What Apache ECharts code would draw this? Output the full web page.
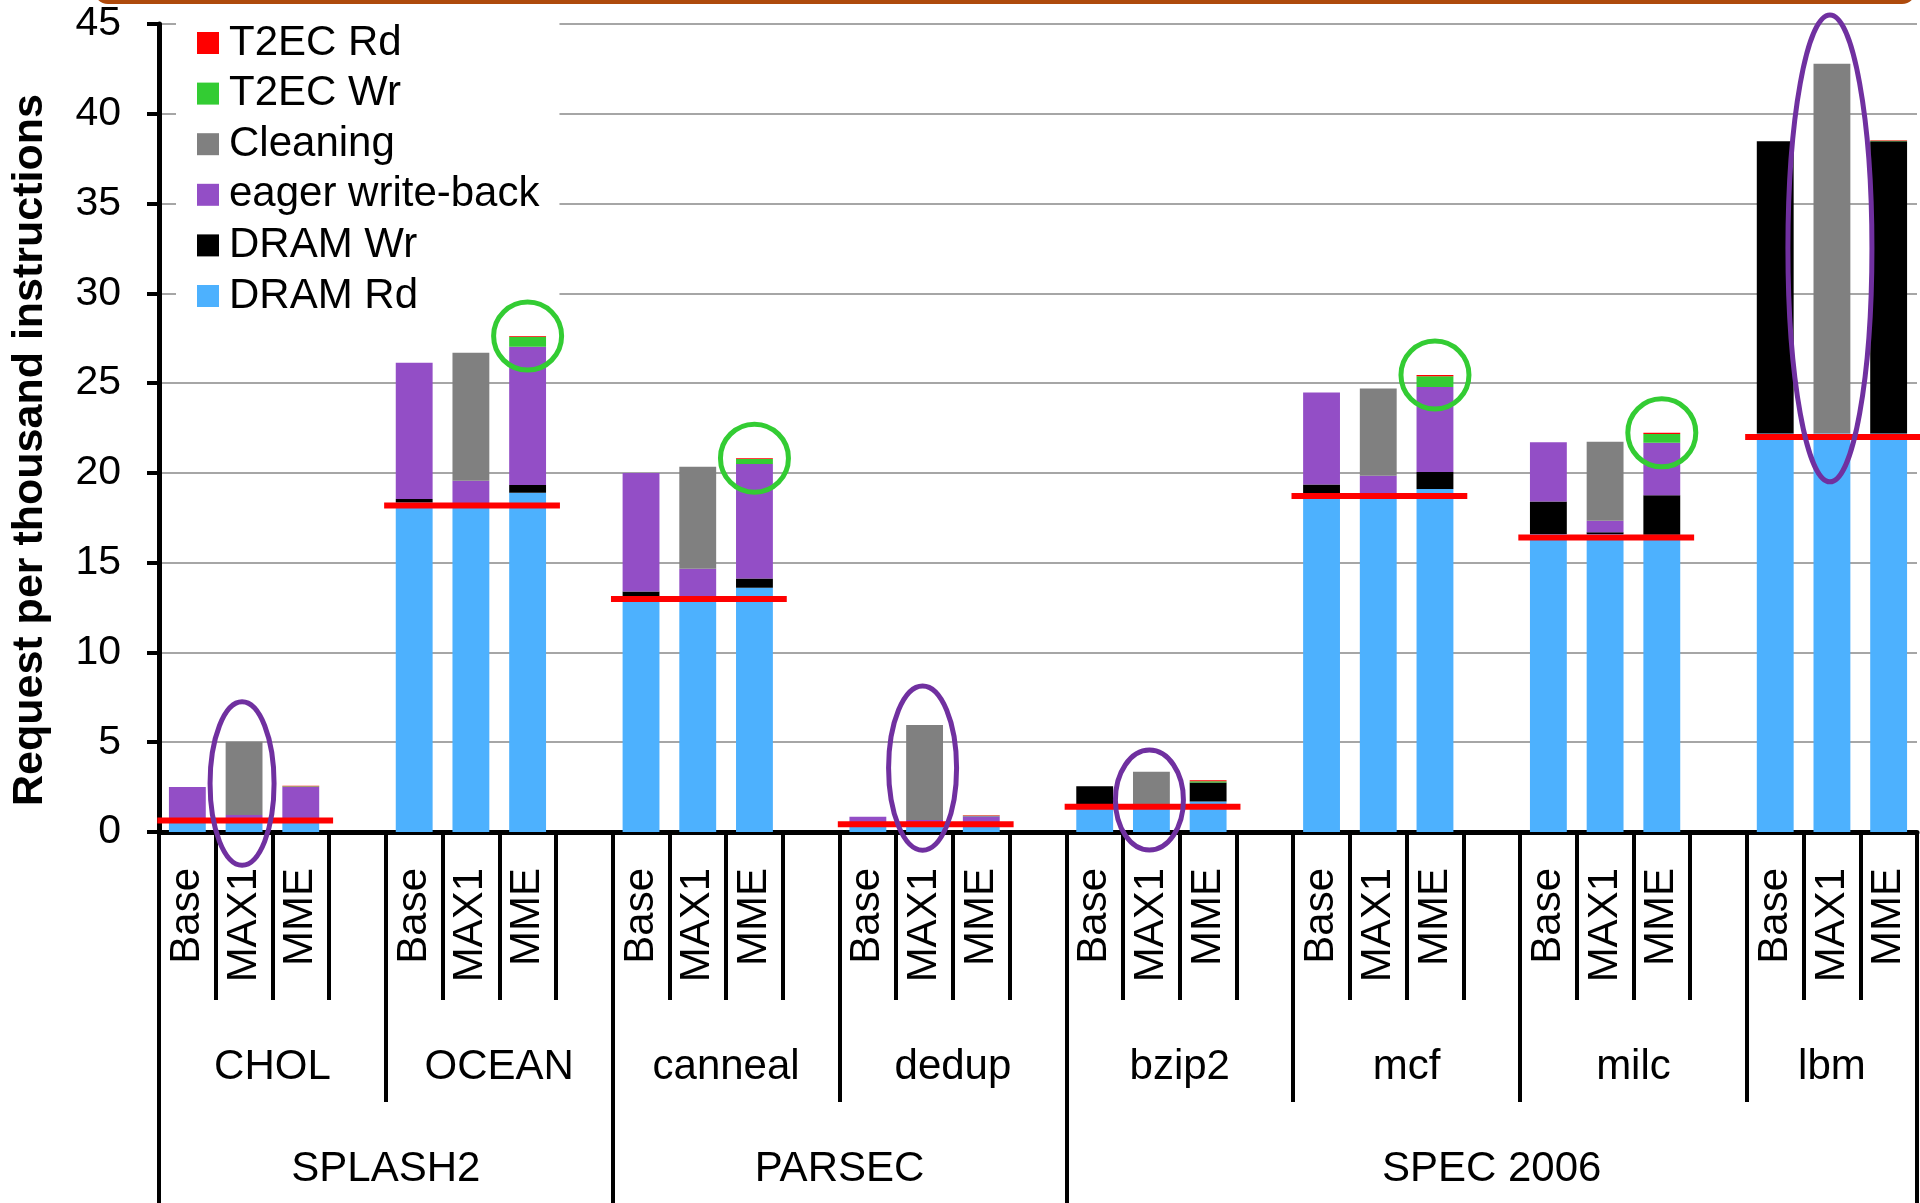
<!DOCTYPE html>
<html>
<head>
<meta charset="utf-8">
<title>Request per thousand instructions</title>
<script src="https://cdn.jsdelivr.net/npm/echarts@6/dist/echarts.min.js"></script>
<style>
  html, body { margin: 0; padding: 0; background: #fff; }
  #chart { width: 1920px; height: 1203px; }
</style>
</head>
<body>
<div id="chart"></div>
<script>
// ---- data -----------------------------------------------------------
const groups  = ['CHOL', 'OCEAN', 'canneal', 'dedup', 'bzip2', 'mcf', 'milc', 'lbm'];
const configs = ['Base', 'MAX1', 'MME'];
const suites  = ['SPLASH2', 'PARSEC', 'SPEC 2006'];
const suiteGroupCounts = [2, 2, 4];

// requests per thousand instructions, one triple [Base, MAX1, MME] per benchmark
const dramRd = [[0.6, 0.6, 0.6], [18.35, 18.3, 18.9], [13.1, 13.1, 13.6], [0.4, 0.4, 0.4],
                [1.35, 1.4, 1.7], [18.85, 18.8, 19.1], [16.6, 16.6, 16.55], [22.2, 22.2, 22.2]];
const dramWr = [[0, 0, 0], [0.2, 0, 0.42], [0.3, 0, 0.52], [0, 0, 0],
                [1.2, 0, 1.05], [0.5, 0, 0.95], [1.8, 0.1, 2.2], [16.27, 0, 16.27]];
const eagerWb = [[1.9, 0.35, 1.92], [7.58, 1.26, 7.7], [6.6, 1.56, 6.37], [0.45, 0.27, 0.48],
                 [0, 0.16, 0], [5.13, 1.04, 4.74], [3.3, 0.63, 2.93], [0, 0, 0]];
const cleaning = [[0, 4.08, 0], [0, 7.13, 0], [0, 5.68, 0], [0, 5.29, 0],
                  [0, 1.8, 0], [0, 4.86, 0], [0, 4.4, 0], [0, 20.59, 0]];
const t2ecWr = [[0, 0, 0.03], [0, 0, 0.56], [0, 0, 0.28], [0, 0, 0.03],
                [0, 0, 0.08], [0, 0, 0.59], [0, 0, 0.48], [0, 0, 0.03]];
const t2ecRd = [[0, 0, 0.02], [0, 0, 0.04], [0, 0, 0.05], [0, 0, 0.02],
                [0, 0, 0.05], [0, 0, 0.07], [0, 0, 0.07], [0, 0, 0.03]];

// baseline DRAM read level of each benchmark (red reference lines)
const baseline = [0.64, 18.19, 12.97, 0.43, 1.40, 18.71, 16.40, 22.0];

// Cleaning traffic call-outs on MAX1: [benchmark, centre value, half height]
const cleaningCallouts = [['CHOL', 2.7, 4.55], ['dedup', 3.56, 4.57], ['bzip2', 1.78, 2.78], ['lbm', 32.5, 13.0]];
// T2EC write call-outs on MME tops
const t2ecCallouts = ['OCEAN', 'canneal', 'mcf', 'milc'];

// ---- layout helpers -------------------------------------------------
const FONT = '"Liberation Sans", Arial, Helvetica, sans-serif';
const SLOTS_PER_GROUP = 4;   // three configurations + one empty spacer
const slotLabels = [];
const slotOf = (g, c) => g * SLOTS_PER_GROUP + c;
groups.forEach((g, gi) => {
  configs.forEach(c => slotLabels.push(c));
  if (gi < groups.length - 1) slotLabels.push('');
});
const nSlots = slotLabels.length;

function expand(table) {
  const out = new Array(nSlots).fill('-');
  table.forEach((row, gi) => row.forEach((v, ci) => { out[slotOf(gi, ci)] = v; }));
  return out;
}

// group boundaries and centres on the slot scale
const groupStart = groups.map((g, gi) => slotOf(gi, 0));
const groupSpan = groups.map((g, gi) => gi < groups.length - 1 ? SLOTS_PER_GROUP : configs.length);
const groupCenter = groupStart.map((s, gi) => s + groupSpan[gi] / 2);
const groupTicks = groupStart.concat([nSlots]);

const suiteStart = [];
const suiteEnd = [];
let acc = 0;
suiteGroupCounts.forEach(n => {
  const s = groupStart[acc];
  const last = acc + n - 1;
  suiteStart.push(s);
  suiteEnd.push(groupStart[last] + groupSpan[last]);
  acc += n;
});
const suiteCenter = suiteStart.map((s, i) => (s + suiteEnd[i]) / 2);
const suiteTicks = suiteStart.concat([nSlots]);

const seriesDefs = [
  { name: 'DRAM Rd', table: dramRd, color: '#4DB1FE' },
  { name: 'DRAM Wr', table: dramWr, color: '#000000' },
  { name: 'eager write-back', table: eagerWb, color: '#934EC6' },
  { name: 'Cleaning', table: cleaning, color: '#808080' },
  { name: 'T2EC Wr', table: t2ecWr, color: '#33CC33' },
  { name: 'T2EC Rd', table: t2ecRd, color: '#FF0000' }
];

const barSeries = seriesDefs.map(d => ({
  name: d.name,
  type: 'bar',
  stack: 'traffic',
  xAxisIndex: 0,
  yAxisIndex: 0,
  barWidth: '65%',
  itemStyle: { color: d.color },
  data: expand(d.table)
}));

// stack totals of each MME bar for placing the green call-outs
function mmeTotal(gi) {
  return seriesDefs.reduce((s, d) => s + d.table[gi][2], 0);
}

const baselineSeries = {
  type: 'custom',
  name: 'baseline',
  xAxisIndex: 0,
  yAxisIndex: 0,
  z: 5,
  clip: false,
  silent: true,
  data: baseline.map((v, gi) => [slotOf(gi, 0), v]),
  renderItem(params, api) {
    const p = api.coord([api.value(0), api.value(1)]);
    const w = api.size([1, 0])[0];
    const x1 = p[0] - 0.53 * w;
    return {
      type: 'line',
      shape: { x1: x1, y1: p[1], x2: x1 + 3.1 * w, y2: p[1] },
      style: { stroke: '#FF0000', lineWidth: 6 }
    };
  }
};

const cleaningRx = { CHOL: 32, dedup: 34, bzip2: 34, lbm: 42 };
const cleaningSeries = {
  type: 'custom',
  name: 'cleaning callouts',
  xAxisIndex: 0,
  yAxisIndex: 0,
  z: 6,
  clip: false,
  silent: true,
  data: cleaningCallouts.map(c => [slotOf(groups.indexOf(c[0]), 1), c[1], c[2]]),
  renderItem(params, api) {
    const c = api.coord([api.value(0), api.value(1)]);
    const top = api.coord([api.value(0), api.value(1) + api.value(2)]);
    const name = cleaningCallouts[params.dataIndex][0];
    return {
      type: 'ellipse',
      shape: { cx: c[0] - 2, cy: c[1], rx: cleaningRx[name], ry: c[1] - top[1] },
      style: { fill: 'none', stroke: '#7030A0', lineWidth: 5 }
    };
  }
};

const t2ecSeries = {
  type: 'custom',
  name: 't2ec callouts',
  xAxisIndex: 0,
  yAxisIndex: 0,
  z: 6,
  clip: false,
  silent: true,
  data: t2ecCallouts.map(n => { const gi = groups.indexOf(n); return [slotOf(gi, 2), mmeTotal(gi)]; }),
  renderItem(params, api) {
    const c = api.coord([api.value(0), api.value(1)]);
    return {
      type: 'ellipse',
      shape: { cx: c[0], cy: c[1], rx: 34, ry: 34 },
      style: { fill: 'none', stroke: '#33CC33', lineWidth: 5 }
    };
  }
};

const chart = echarts.init(document.getElementById('chart'), null, { renderer: 'canvas' });

chart.setOption({
  animation: false,
  backgroundColor: '#ffffff',
  textStyle: { fontFamily: FONT, color: '#000' },
  grid: { left: 159, right: 3, top: 24, bottom: 371, containLabel: false, outerBoundsMode: 'none' },
  legend: {
    orient: 'vertical',
    left: 176,
    top: 6,
    padding: [16, 20, 6, 21],
    itemWidth: 22,
    itemHeight: 22,
    itemGap: 8.6,
    icon: 'rect',
    backgroundColor: '#ffffff',
    selectedMode: false,
    data: ['T2EC Rd', 'T2EC Wr', 'Cleaning', 'eager write-back', 'DRAM Wr', 'DRAM Rd'],
    textStyle: { fontFamily: FONT, fontSize: 42, lineHeight: 42, color: '#000', padding: [0, 0, 0, 5] }
  },
  xAxis: [
    {
      type: 'category',
      data: slotLabels,
      position: 'bottom',
      boundaryGap: true,
      axisLine: { show: true, lineStyle: { color: '#000', width: 5 } },
      axisTick: { show: true, interval: 0, length: 168, lineStyle: { color: '#000', width: 4 } },
      axisLabel: { interval: 0, rotate: 90, margin: 36, fontSize: 42, color: '#000', fontFamily: FONT },
      splitLine: { show: false }
    },
    {
      type: 'value',
      min: 0,
      max: nSlots,
      position: 'bottom',
      axisLine: { show: false },
      splitLine: { show: false },
      axisTick: { show: true, customValues: groupTicks, length: 270, lineStyle: { color: '#000', width: 4 } },
      axisLabel: {
        customValues: groupCenter,
        margin: 214,
        fontSize: 42,
        color: '#000',
        fontFamily: FONT,
        formatter: v => groups[groupCenter.indexOf(v)] || ''
      }
    },
    {
      type: 'value',
      min: 0,
      max: nSlots,
      position: 'bottom',
      axisLine: { show: false },
      splitLine: { show: false },
      axisTick: { show: true, customValues: suiteTicks, length: 380, lineStyle: { color: '#000', width: 4 } },
      axisLabel: {
        customValues: suiteCenter,
        margin: 316,
        fontSize: 42,
        color: '#000',
        fontFamily: FONT,
        formatter: v => suites[suiteCenter.indexOf(v)] || ''
      }
    }
  ],
  yAxis: {
    type: 'value',
    min: 0,
    max: 45,
    interval: 5,
    axisLine: { show: true, lineStyle: { color: '#000', width: 5 } },
    axisTick: { show: true, length: 12, lineStyle: { color: '#000', width: 4 } },
    axisLabel: { margin: 38, fontSize: 41, color: '#000', fontFamily: FONT },
    splitLine: { show: true, lineStyle: { color: '#A6A6A6', width: 2 } }
  },
  graphic: [
    {
      type: 'rect',
      shape: { x: 96, y: -80, width: 1818, height: 82, r: 12 },
      style: { fill: 'none', stroke: '#AE4A0C', lineWidth: 4 },
      z: 10
    },
    {
      type: 'text',
      x: 30,
      y: 450,
      rotation: Math.PI / 2,
      style: {
        text: 'Request per thousand instructions',
        font: 'bold 43px ' + FONT,
        fill: '#000',
        align: 'center',
        verticalAlign: 'middle'
      }
    }
  ],
  series: barSeries.concat([baselineSeries, cleaningSeries, t2ecSeries])
});
</script>
</body>
</html>
